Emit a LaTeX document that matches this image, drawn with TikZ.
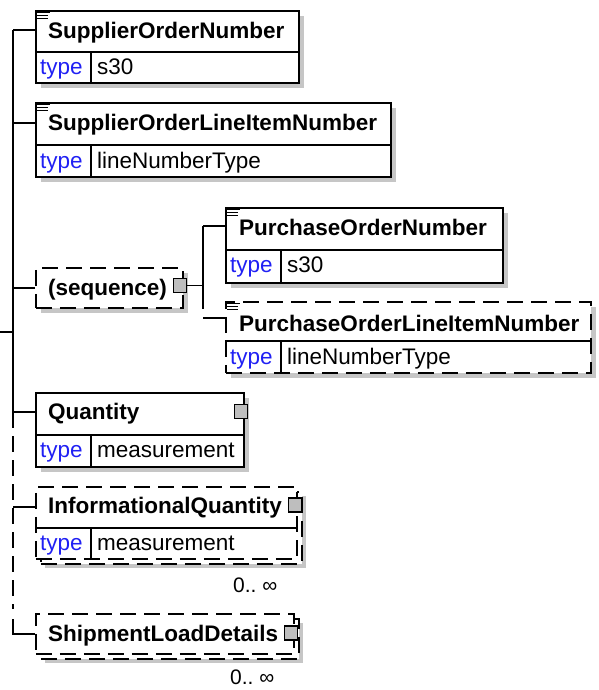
\documentclass[tikz,border=0pt]{standalone}
\usepackage{fontspec}
\setmainfont{Liberation Sans}
\definecolor{shade}{HTML}{C6C6C6}
\definecolor{typeblue}{HTML}{2020F4}
\definecolor{sqfill}{HTML}{BEBEBE}
\tikzset{
  ln/.style={line width=1.9pt},
  dsh/.style={dash pattern=on 16pt off 8pt},
  box/.style={draw, ln, fill=white, rectangle, inner sep=0pt, anchor=north west},
  hcell/.style={rectangle, inner sep=0pt, anchor=north west},
  shadowbox/.style={fill=shade, draw=none, rectangle, inner sep=0pt, anchor=north west},
  nm/.style={font=\fontsize{22.5}{27}\selectfont\bfseries, anchor=base west, inner sep=0pt},
  tp/.style={font=\fontsize{22.5}{27}\selectfont, text=typeblue, anchor=base west, inner sep=0pt},
  val/.style={font=\fontsize{22.5}{27}\selectfont, anchor=base west, inner sep=0pt},
  sq/.style={draw, line width=1.5pt, fill=sqfill, minimum width=13pt, minimum height=14pt, inner sep=0pt},
  card/.style={font=\fontsize{21}{25}\selectfont, anchor=base west, inner sep=0pt},
  docln/.style={line width=1pt},
}
\begin{document}
\begin{tikzpicture}[x=1pt, y=-1pt]
\useasboundingbox (0,0) rectangle (599,690);

% ---------- SupplierOrderNumber ----------
\node[shadowbox, minimum width=263pt, minimum height=72pt] (Ash) at (41,16) {};
\node[box, minimum width=263pt, minimum height=72pt] (A) at (35,10) {};
\node[hcell, minimum width=263pt, minimum height=42pt] (Ah) at (35,10) {};
\draw[ln] (Ah.south west) -- (Ah.south east);
\draw[ln] (91,52) -- (91,82);
\draw[docln] (37,12.7) -- (50,12.7) (37,15.4) -- (48,15.4) (37,18.2) -- (48,18.2);
\node[nm] (An) at (48,38.5) {SupplierOrderNumber};
\node[tp] (At) at (40,75) {type};
\node[val] (Av) at (97,75) {s30};

% ---------- SupplierOrderLineItemNumber ----------
\node[shadowbox, minimum width=355pt, minimum height=74pt] (Bsh) at (41,108) {};
\node[box, minimum width=355pt, minimum height=74pt] (B) at (35,102) {};
\node[hcell, minimum width=355pt, minimum height=43pt] (Bh) at (35,102) {};
\draw[ln] (Bh.south west) -- (Bh.south east);
\draw[ln] (91,145) -- (91,176);
\draw[docln] (37,104.7) -- (50,104.7) (37,107.4) -- (48,107.4) (37,110.2) -- (48,110.2);
\node[nm] (Bn) at (48,130.5) {SupplierOrderLineItemNumber};
\node[tp] (Bt) at (40,168) {type};
\node[val] (Bv) at (97,168) {lineNumberType};

% ---------- (sequence) ----------
\node[shadowbox, minimum width=147pt, minimum height=40pt] (Ssh) at (41,273) {};
\node[box, dsh, minimum width=147pt, minimum height=40pt] (S) at (35,267) {};
\node[nm] (Sn) at (48,295.5) {(sequence)};
\node[sq] (Ssq) at (180,285.5) {};

% ---------- PurchaseOrderNumber ----------
\node[shadowbox, minimum width=277pt, minimum height=75pt] (Csh) at (231,213) {};
\node[box, minimum width=277pt, minimum height=75pt] (C) at (225,207) {};
\node[hcell, minimum width=277pt, minimum height=43pt] (Ch) at (225,207) {};
\draw[ln] (Ch.south west) -- (Ch.south east);
\draw[ln] (281,250) -- (281,282);
\draw[docln] (227,209.7) -- (240,209.7) (227,212.4) -- (238,212.4) (227,215.2) -- (238,215.2);
\node[nm] (Cn) at (239,235.5) {PurchaseOrderNumber};
\node[tp] (Ct) at (230,272.5) {type};
\node[val] (Cv) at (287,272.5) {s30};

% ---------- PurchaseOrderLineItemNumber ----------
\node[shadowbox, minimum width=365pt, minimum height=71pt] (Dsh) at (231,307) {};
\node[box, dsh, minimum width=365pt, minimum height=71pt] (D) at (225,301) {};
\node[hcell, minimum width=365pt, minimum height=40pt] (Dh) at (225,301) {};
\draw[ln] (Dh.south west) -- (Dh.south east);
\draw[ln] (281,341) -- (281,372);
\draw[docln] (227,303.7) -- (240,303.7) (227,306.4) -- (238,306.4) (227,309.2) -- (238,309.2);
\node[nm] (Dn) at (239,331) {PurchaseOrderLineItemNumber};
\node[tp] (Dt) at (230,364) {type};
\node[val] (Dv) at (287,364) {lineNumberType};

% ---------- Quantity ----------
\node[shadowbox, minimum width=208pt, minimum height=74pt] (Esh) at (41,398) {};
\node[box, minimum width=208pt, minimum height=74pt] (E) at (35,392) {};
\node[hcell, minimum width=208pt, minimum height=43pt] (Eh) at (35,392) {};
\draw[ln] (Eh.south west) -- (Eh.south east);
\draw[ln] (91,435) -- (91,466);
\node[nm] (En) at (48,419.5) {Quantity};
\node[tp] (Et) at (40,457.5) {type};
\node[val] (Ev) at (97,457.5) {measurement};
\node[sq] (Esq) at (241,411.5) {};

% ---------- InformationalQuantity ----------
\node[shadowbox, minimum width=261pt, minimum height=72pt] (Fsh) at (45,496) {};
\node[box, dsh, minimum width=261pt, minimum height=72pt] (Fb) at (40,491) {};
\node[box, dsh, minimum width=261pt, minimum height=72pt] (F) at (35,486) {};
\node[hcell, minimum width=261pt, minimum height=42pt] (Fh) at (35,486) {};
\draw[ln] (Fh.south west) -- (Fh.south east);
\draw[ln] (91,528) -- (91,560);
\node[nm] (Fn) at (48,513.5) {InformationalQuantity};
\node[tp] (Ft) at (40,550.5) {type};
\node[val] (Fv) at (97,550.5) {measurement};
\node[sq] (Fsq) at (295,505) {};
\node[card] (Fc) at (233,592) {0..\ ∞};

% ---------- ShipmentLoadDetails ----------
\node[shadowbox, minimum width=258pt, minimum height=40pt] (Gsh) at (45,623) {};
\node[box, dsh, minimum width=258pt, minimum height=40pt] (Gb) at (40,618) {};
\node[box, dsh, minimum width=258pt, minimum height=40pt] (G) at (35,613) {};
\node[nm] (Gn) at (48,641) {ShipmentLoadDetails};
\node[sq] (Gsq) at (291,633) {};
\node[card] (Gc) at (230,684.5) {0..\ ∞};

% ---------- connectors ----------
\coordinate (tr) at (13,0);
\coordinate (root) at (0,332);
\coordinate (Acn) at ([yshift=-20pt]A.north west);
\coordinate (Bcn) at ([yshift=-21pt]B.north west);
\coordinate (Scn) at (S.west);
\coordinate (Ecn) at ([yshift=-20pt]E.north west);
\coordinate (Fcn) at ([yshift=-21pt]F.north west);
\coordinate (Gcn) at (G.west);
\coordinate (Ccn) at ([yshift=-19pt]C.north west);
\coordinate (Dcn) at ([yshift=-17pt]D.north west);
\coordinate (sj) at (203,0);

\draw[ln] (root) -- (root -| tr);
\draw[ln] (tr |- Acn) -- (tr |- Ecn);
\draw[ln, dsh] (tr |- Ecn) -- (tr |- 0,609);
\draw[ln] (tr |- 0,619) -- (tr |- Gcn) -- (Gcn);
\draw[ln] (tr |- Acn) -- (Acn);
\draw[ln] (tr |- Bcn) -- (Bcn);
\draw[ln] (tr |- Scn) -- (Scn);
\draw[ln] (tr |- Ecn) -- (Ecn);
\draw[ln] (tr |- Fcn) -- (Fcn);

\draw[ln] (Ssq.east) -- (Ssq.east -| sj);
\draw[ln] (sj |- Ccn) -- (sj |- 0,309);
\draw[ln] (sj |- Ccn) -- (Ccn);
\draw[ln] (sj |- Dcn) -- (Dcn);
\end{tikzpicture}
\end{document}
